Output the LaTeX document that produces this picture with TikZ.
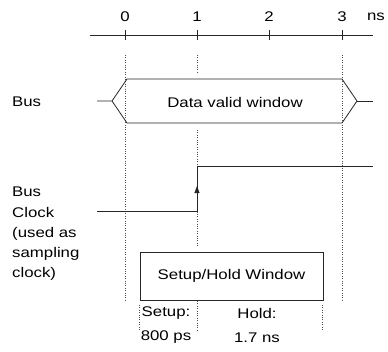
\documentclass[tikz,border=0pt]{standalone}
\usepackage{fontspec}
\setmainfont{Liberation Sans}[FakeStretch=1.2]
\usetikzlibrary{arrows.meta}
\begin{document}
\begin{tikzpicture}[x=1pt,y=-1pt,
  sig/.style={draw=black!85,line width=0.8pt},
  guide/.style={draw=black!70,line width=0.7pt,dash pattern=on 0.8pt off 1.6pt},
  lbl/.style={font=\fontsize{14}{20}\selectfont,inner sep=0pt},
  box/.style={draw=black!85,line width=0.8pt,minimum width=183pt,minimum height=48pt,inner sep=0pt,font=\fontsize{14}{20}\selectfont}]
\useasboundingbox[fill=white] (0,0) rectangle (388,351);
% time axis
\draw[sig,line width=0.7pt] (90,35) -- (373,35);
\foreach \x/\t/\n in {125/0/a,197/1/b,269/2/c,342/3/d}{
  \draw[sig,line width=0.7pt] (\x,30) -- (\x,40);
  \node[lbl] (t\n) at (\x,17) {\t};
}
\node[lbl] (tns) at (376,17) {ns};
% guide lines
\draw[guide] (125,55) -- (125,302);
\draw[guide] (342,55) -- (342,302);
\draw[guide] (197,55) -- (197,74);
\draw[guide] (197,130) -- (197,246);
\draw[guide] (197,301) -- (197,331);
\draw[guide] (139,305) -- (139,331);
\draw[guide] (322,305) -- (322,331);
% bus
\draw[sig] (97,101) -- (112,101) -- (127,79) -- (342,79) -- (357,101) -- (342,123) -- (127,123) -- (112,101);
\draw[sig] (357,101) -- (373,101);
\node[lbl] (dvw) at (235,102) {Data valid window};
\node[lbl,anchor=west] (bus) at (12,102) {Bus};
% clock
\coordinate (c0) at (97,211);
\coordinate (c1) at (197,211);
\coordinate (c2) at (197,166);
\coordinate (c3) at (373,166);
\draw[sig] (c0) -- (c1) -- (c2) -- (c3);
\coordinate (ar0) at (197,196);
\coordinate (ar1) at (197,186);
\draw[sig,-{Triangle[length=7pt,width=5pt]}] (ar0) -- (ar1);
\node[lbl,anchor=west,align=left,font=\fontsize{14}{20.2}\selectfont] (clk) at (12,234) {Bus\\Clock\\(used as\\sampling\\clock)};
% setup/hold window
\node[box,fill=white] (shw) at (231.5,276) {Setup/Hold Window};
\node[lbl,align=center,font=\fontsize{14}{24}\selectfont] (setup) at (166,325) {Setup:\\800 ps};
\node[lbl,align=center,font=\fontsize{14}{24}\selectfont] (hold) at (257,325) {Hold:\\1.7 ns};
\end{tikzpicture}
\end{document}
